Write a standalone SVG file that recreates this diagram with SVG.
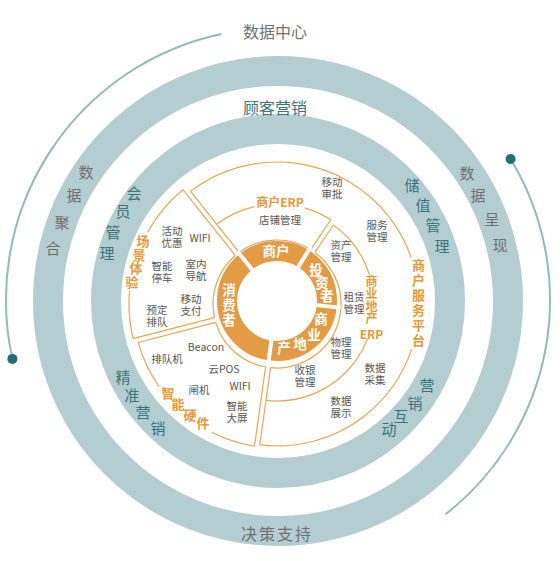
<svg xmlns="http://www.w3.org/2000/svg" width="560" height="561" viewBox="0 0 560 561">
<style>
text{font-family:"Noto Sans CJK SC","Noto Sans",sans-serif;text-anchor:middle;dominant-baseline:central}
.v{writing-mode:vertical-rl}
.s{text-anchor:start}
.ring{fill:none;stroke:#b3cdd1}
.thin{fill:none;stroke:#93b8be;stroke-width:2}
.dot{fill:#2b6b74}
.ol{fill:none;stroke:#e6a655;stroke-width:1.2}
.gray{fill:#707070;font-size:16px}
.gray15{fill:#707070;font-size:15px}
.teal{fill:#3d737b;font-size:15px}
.teal16{fill:#3d737b;font-size:16px}
.in{fill:#555;font-size:10.5px}
.or{fill:#e8993b;font-weight:bold;font-size:13px}
.or12{fill:#e8993b;font-weight:bold;font-size:12px}
.w{fill:#fff;font-weight:bold;font-size:13.5px}
</style>
<rect width="560" height="561" fill="#fff"/>
<g id="rings">
<circle class="ring" cx="278" cy="301" r="230" stroke-width="30"/>
<circle class="ring" cx="278" cy="301" r="172" stroke-width="30"/>
<path class="thin" d="M12.4 358.9 A272 272 0 0 1 221.4 34"/>
<path class="thin" d="M510.6 159 A272 272 0 0 1 445.5 514.3"/>
<circle class="dot" cx="12.4" cy="358.9" r="5"/>
<circle class="dot" cx="510.6" cy="159" r="5"/>
</g>
<g id="ring-labels">
<text class="gray" x="275" y="31">数据中心</text>
<text class="teal16" x="275" y="107">顾客营销</text>
<text class="gray" x="277" y="533" letter-spacing="2">决策支持</text>
<text class="gray15 v s" x="86" y="164.5" dx="0 -12 -12 -9" dy="0 8 12 11">数据聚合</text>
<text class="gray15 v s" x="467" y="165.5" dx="0 11 14 8" dy="0 7 9 11">数据呈现</text>
<text class="teal v s" x="134" y="185.5" dx="0 -11 -10 -6" dy="0 3 6 6">会员管理</text>
<text class="teal v s" x="123" y="369.5" dx="0 9 11 15" dy="0 3 2 1">精准营销</text>
<text class="teal v s" x="412" y="177.5" dx="0 11 10 9" dy="0 5 5 6">储值管理</text>
<text class="teal v s" x="427" y="377.5" dx="0 -12 -14 -12" dy="0 3 -2 -2">营销互动</text>
</g>
<g id="sectors">
<g transform="rotate(231.5 277 304)"><line class="ol" x1="341" y1="301.5" x2="425" y2="301.5"/><line class="ol" x1="341" y1="306.5" x2="419" y2="306.5"/></g>
<g transform="rotate(165.5 277 304)"><line class="ol" x1="341" y1="301.5" x2="421" y2="301.5"/><line class="ol" x1="341" y1="306.5" x2="425" y2="306.5"/></g>
<g transform="rotate(98 277 304)"><line class="ol" x1="341" y1="301.5" x2="419" y2="301.5"/><line class="ol" x1="341" y1="306.5" x2="421" y2="306.5"/></g>
<g transform="rotate(304 277 304)"><line class="ol" x1="341" y1="301.5" x2="377" y2="301.5"/><line class="ol" x1="341" y1="306.5" x2="374" y2="306.5"/></g>
<circle class="ol" cx="277" cy="304" r="148" pathLength="360" stroke-dasharray="18.5 24 21.5 360" transform="rotate(166.5 277 304)"/>
<circle class="ol" cx="277" cy="304" r="64" pathLength="360" stroke-dasharray="61.6 360" transform="rotate(167.7 277 304)"/>
<circle class="ol" cx="277" cy="304" r="144" pathLength="360" stroke-dasharray="18 28 19.5 360" transform="rotate(99 277 304)"/>
<circle class="ol" cx="277" cy="304" r="64" pathLength="360" stroke-dasharray="63.1 360" transform="rotate(100.2 277 304)"/>
<circle class="ol" cx="277" cy="304" r="142" pathLength="360" stroke-dasharray="108.5 37.5 78.5 360" transform="rotate(232.5 277 304)"/>
<circle class="ol" cx="277" cy="304" r="64" pathLength="360" stroke-dasharray="68.1 4.4 149.6 360" transform="rotate(233.7 277 304)"/>
<circle class="ol" cx="277" cy="304" r="100" pathLength="360" stroke-dasharray="24.1 29 16.6 360" transform="rotate(232.9 277 304)"/>
<circle class="ol" cx="277" cy="304" r="97" pathLength="360" stroke-dasharray="37.5 38 75.5 360" transform="rotate(305.5 277 304)"/>
</g>
<g id="sector-labels">
<text class="or12" x="280" y="201" font-size="11.5">商户ERP</text>
<text class="or v" x="418.5" y="303.5" letter-spacing="2">商户服务平台</text>
<text class="or12 v" x="371.5" y="300" letter-spacing="0.5">商业地产</text>
<text class="or12" x="371.5" y="333">ERP</text>
<text class="or v s" x="143" y="234.5" dx="0 -4 -3 -4" dy="0 1 0 1">场景体验</text>
<text class="or v s" x="168" y="386.5" dx="0 10 12 13" dy="0 -2 -2 -5">智能硬件</text>
<text class="in s" x="321.5" y="181" dx="0 0 -21" dy="0 0 12">移动审批</text>
<text class="in" x="280" y="219">店铺管理</text>
<text class="in s" x="366.5" y="224" dx="0 0 -21" dy="0 0 12">服务管理</text>
<text class="in s" x="330.5" y="244" dx="0 0 -21" dy="0 0 12">资产管理</text>
<text class="in s" x="343.5" y="296" dx="0 0 -21" dy="0 0 12">租赁管理</text>
<text class="in s" x="330.5" y="341" dx="0 0 -21" dy="0 0 12">物理管理</text>
<text class="in s" x="364.5" y="367" dx="0 0 -21" dy="0 0 12">数据采集</text>
<text class="in s" x="294.5" y="369" dx="0 0 -21" dy="0 0 12">收银管理</text>
<text class="in s" x="330.5" y="400" dx="0 0 -21" dy="0 0 12">数据展示</text>
<text class="in s" x="161.5" y="230" dx="0 0 -21" dy="0 0 12">活动优惠</text>
<text class="in" x="200" y="237">WIFI</text>
<text class="in s" x="151.5" y="265" dx="0 0 -21" dy="0 0 12">智能停车</text>
<text class="in s" x="185.5" y="263" dx="0 0 -21" dy="0 0 12">室内导航</text>
<text class="in s" x="180.5" y="298" dx="0 0 -21" dy="0 0 12">移动支付</text>
<text class="in s" x="146.5" y="309" dx="0 0 -21" dy="0 0 12">预定排队</text>
<text class="in" x="206" y="346">Beacon</text>
<text class="in" x="167" y="358">排队机</text>
<text class="in" x="224" y="368">云POS</text>
<text class="in" x="199" y="389">闸机</text>
<text class="in" x="240" y="385">WIFI</text>
<text class="in s" x="226.5" y="405" dx="0 0 -21" dy="0 0 12">智能大屏</text>
</g>
<g id="core">
<circle cx="277" cy="301" r="50" fill="none" stroke="#e49b45" stroke-width="20"/>
<line x1="314" y1="301" x2="341" y2="301" stroke="#fff" stroke-width="4" transform="rotate(231.5 277 301)"/>
<line x1="314" y1="301" x2="341" y2="301" stroke="#fff" stroke-width="4" transform="rotate(302 277 301)"/>
<line x1="314" y1="301" x2="341" y2="301" stroke="#fff" stroke-width="4" transform="rotate(6 277 301)"/>
<line x1="314" y1="301" x2="341" y2="301" stroke="#fff" stroke-width="4" transform="rotate(98 277 301)"/>
<text class="w" x="276" y="250">商户</text>
<text class="w v s" x="316" y="263.25" dx="0 6 5" dy="0 -0.5 -0.5">投资者</text>
<text class="w v s" x="321" y="312.25" dx="0 -7 -14 -16" dy="0 2.5 -4.5 -9.5">商业地产</text>
<text class="w v" x="229" y="306" letter-spacing="1.5">消费者</text>
</g>
</svg>
